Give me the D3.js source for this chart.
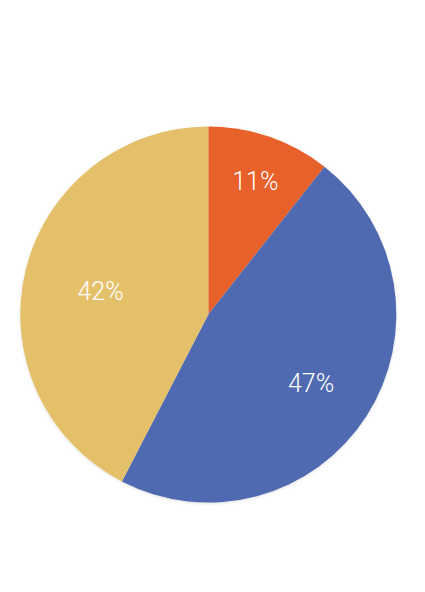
<!DOCTYPE html>
<html>
<head>
<meta charset="utf-8">
<script src="https://cdn.jsdelivr.net/npm/d3@7"></script>
<style>
  html, body { margin: 0; padding: 0; background: #ffffff; }
  svg { display: block; }
</style>
</head>
<body>
<div id="chart"></div>
<script>
const categories = ["A", "B", "C"];
const values = [10.6, 47.0, 42.4];
const labels = ["11%", "47%", "42%"];
const colors = ["#E8612C", "#4F6AB0", "#E5C06B"];

const W = 425, H = 592;
const cx = 208.3, cy = 314.5, R = 188;
// label distance as fraction of radius, per slice
const labelFrac = [0.765, 0.65, 0.59];

const svg = d3.select("#chart").append("svg")
  .attr("width", W).attr("height", H);

const defs = svg.append("defs");
const f = defs.append("filter").attr("id", "sh")
  .attr("x", "-10%").attr("y", "-10%").attr("width", "120%").attr("height", "120%");
f.append("feDropShadow").attr("dx", 0).attr("dy", 1).attr("stdDeviation", 1.5)
  .attr("flood-color", "#000").attr("flood-opacity", 0.12);

const pie = d3.pie().sort(null).value(d => d.v);
const data = categories.map((c, i) => ({ c, v: values[i], label: labels[i], color: colors[i] }));
const arcs = pie(data);
const arc = d3.arc().innerRadius(0).outerRadius(R);

const g = svg.append("g").attr("transform", `translate(${cx},${cy})`);
g.append("g").attr("filter", "url(#sh)")
  .selectAll("path").data(arcs).join("path")
  .attr("d", arc)
  .attr("fill", d => d.data.color);

g.selectAll("text").data(arcs).join("text")
  .attr("transform", (d, i) => {
    const a = (d.startAngle + d.endAngle) / 2;
    const r = R * labelFrac[i];
    return `translate(${r * Math.sin(a)},${-r * Math.cos(a)})`;
  })
  .attr("text-anchor", "middle")
  .attr("dy", "0.46em")
  .attr("fill", "#ffffff")
  .attr("font-family", "Roboto, 'Open Sans', sans-serif")
  .attr("font-weight", 300)
  .attr("font-size", 25)
  .text(d => d.data.label);
</script>
</body>
</html>
